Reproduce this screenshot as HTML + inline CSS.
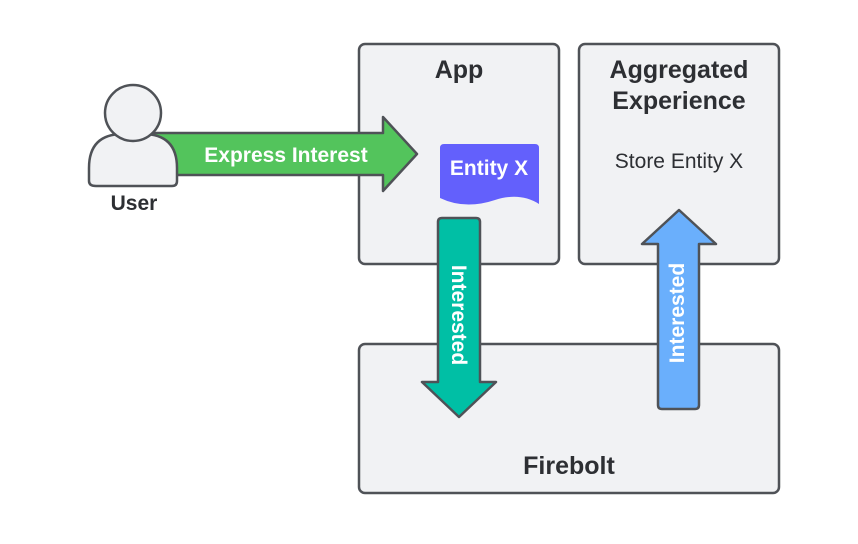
<!DOCTYPE html>
<html><head><meta charset="utf-8"><style>
html,body{margin:0;padding:0;background:#fff}
svg text{font-family:"Liberation Sans",Arial,sans-serif}
</style></head><body>
<svg width="858" height="539" viewBox="0 0 858 539" xmlns="http://www.w3.org/2000/svg">
<g stroke="#4f5257" stroke-width="2.5" fill="#f1f2f4" stroke-linejoin="round">
<rect x="359" y="44" width="200" height="220" rx="6"/>
<rect x="579" y="44" width="200" height="220" rx="6"/>
<rect x="359" y="344" width="420" height="149" rx="6"/>
<!-- green arrow -->
<path d="M150,133 L383,133 L383,117 L417,154 L383,191 L383,175 L150,175" fill="#53c45c"/>
<!-- user -->
<path d="M96,186 L172,186 Q177,186 177,181 L177,168 Q177,134 143,134 L123,134 Q89,134 89,168 L89,181 Q89,186 96,186 Z"/>
<circle cx="133" cy="113" r="28"/>
<!-- teal arrow -->
<path d="M442,218 L476,218 Q480,218 480,222 L480,382 L496,382 L459,417 L422,382 L438,382 L438,222 Q438,218 442,218 Z" fill="#00bfa5"/>
<!-- blue arrow -->
<path d="M662,409 L695,409 Q699,409 699,405 L699,244 L716,244 L679,210 L642,244 L658,244 L658,405 Q658,409 662,409 Z" fill="#6aaffc"/>
</g>
<path d="M444,144 L535,144 Q539,144 539,148 L539,204 Q520,192 495,200 Q465,210 440,198 L440,148 Q440,144 444,144 Z" fill="#6360fc"/>
<g font-weight="bold" text-anchor="middle">
<text x="459" y="78" font-size="25" fill="#2d2f33">App</text>
<text x="679" y="78" font-size="25" fill="#2d2f33">Aggregated</text>
<text x="679" y="109" font-size="25" fill="#2d2f33">Experience</text>
<text x="569" y="474" font-size="25" fill="#2d2f33">Firebolt</text>
<text x="134" y="210" font-size="21" fill="#2d2f33">User</text>
<text x="286" y="162" font-size="21" fill="#fff">Express Interest</text>
<text x="489" y="175" font-size="21" fill="#fff">Entity X</text>
<text transform="translate(452,315) rotate(90)" font-size="21" fill="#fff">Interested</text>
<text transform="translate(684,313) rotate(-90)" font-size="21" fill="#fff">Interested</text>
</g>
<text x="679" y="168" font-size="21" text-anchor="middle" fill="#2d2f33" font-family="Liberation Sans">Store Entity X</text>
</svg>
</body></html>
